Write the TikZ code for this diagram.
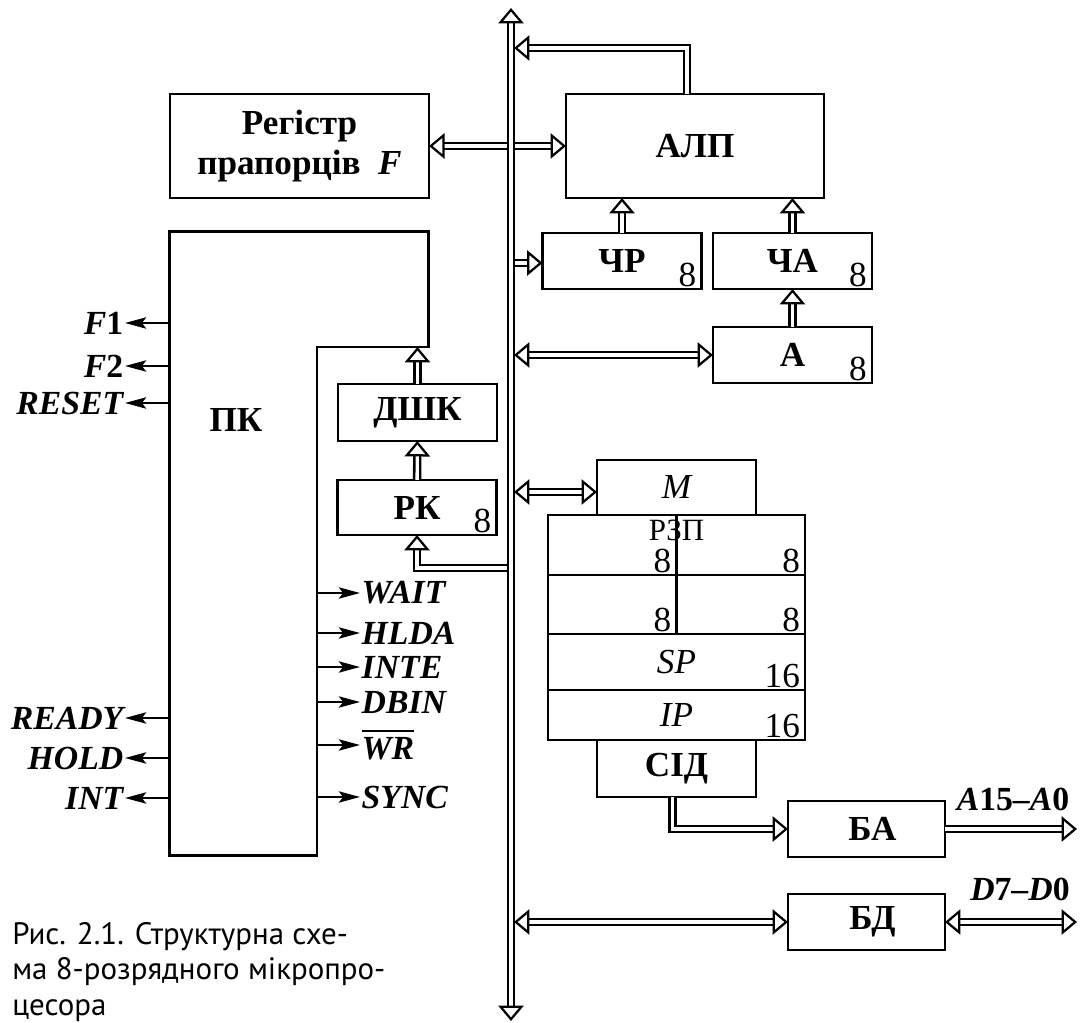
\documentclass[tikz,border=0pt]{standalone}
\usepackage{fontspec}
\setmainfont{Liberation Serif}
\newfontfamily\capfont{PT Sans}
\usetikzlibrary{arrows.meta,positioning}
\newcommand{\negsig}[1]{\vbox{\hrule height 1.8pt\kern 4pt\hbox{#1}}}

\begin{document}
\begin{tikzpicture}[
    x=0.025cm, y=-0.025cm,
    txt/.style={inner sep=0pt, font=\fontsize{22}{25}\selectfont},
    box/.style={draw, line width=2pt, inner sep=0pt, outer sep=0pt, font=\fontsize{25}{28}\selectfont\bfseries},
    unit/.style={box, minimum width=3.975cm, minimum height=1.4cm},
    row/.style={draw, line width=2pt, inner sep=0pt, outer sep=0pt, minimum width=6.425cm, font=\fontsize{25}{28}\selectfont\itshape},
    bits/.style={inner xsep=3.5pt, inner ysep=1.5pt, font=\fontsize{25}{28}\selectfont},
    sig/.style={inner sep=1pt, font=\fontsize{24}{27}\selectfont\bfseries\itshape},
    sigarr/.style={line width=1.8pt, -{Stealth[length=15pt, width=8pt, inset=3pt]}},
    dbl/.style={double, double distance=2.4pt, line width=1.8pt},
    dto/.style={dbl, -{Triangle[open, length=11pt, width=18pt, line width=1.6pt]}},
    dtw/.style={dbl, {Triangle[open, length=11pt, width=18pt, line width=1.6pt]}-{Triangle[open, length=11pt, width=18pt, line width=1.6pt]}},
]
\useasboundingbox (0,0) rectangle (1080,1023);
% Upper blocks
\node[box, minimum width=6.475cm, minimum height=2.6cm, align=center] (regf) at (299.5,146) {Регістр\\прапорців~~\textit{F}};
\node[box, minimum width=6.45cm, minimum height=2.6cm] (alu) at (695,146) {АЛП};
\node[unit] (chr) at (622,261) {ЧР};
\node[unit] (cha) at (792.5,261) {ЧА};
\node[unit] (acc) at (792.5,355) {А};
\node[bits, anchor=south east] (chr8) at (chr.south east) {8};
\node[bits, anchor=south east] (cha8) at (cha.south east) {8};
\node[bits, anchor=south east] (acc8) at (acc.south east) {8};
% Control unit
\node[inner sep=0pt, minimum width=6.45cm, minimum height=15.575cm] (pk) at (299,543.5) {};
\coordinate (pkn) at (317,347);
\draw[line width=2pt] (pk.north west) -- (pk.north east) |- (pkn) |- (pk.south west) -- cycle;
\node[box, draw=none] (pkt) at (236,420) {ПК};
\node[unit, minimum height=1.425cm] (dshk) at (417.5,412.5) {ДШК};
\node[unit, minimum height=1.375cm] (rk) at (417,507.5) {РК};
\node[bits, anchor=south east] (rk8) at (rk.south east) {8};
% Register file
\node[row, minimum height=1.5cm] (rzpa) at (676.5,545) {};
\node[row, minimum height=1.475cm, below=0pt of rzpa] (rzpb) {};
\node[row, minimum height=1.4cm, below=0pt of rzpb] (sp) {SP};
\node[row, minimum height=1.25cm, below=0pt of sp] (ip) {IP};
\node[unit, minimum height=1.375cm, above=0pt of rzpa, font=\fontsize{25}{28}\selectfont\itshape] (m) {M};
\node[unit, minimum height=1.425cm, below=0pt of ip] (sid) {СІД};
\draw[line width=2pt] (rzpa.north) -- (rzpb.south);
\node[txt, anchor=north] (rzpt) at ([yshift=-0.12cm]rzpa.north) {РЗП};
\node[bits, anchor=south east] (rza8) at (rzpa.south) {8};
\node[bits, anchor=south east] (rzb8) at (rzpa.south east) {8};
\node[bits, anchor=south east] (rzc8) at (rzpb.south) {8};
\node[bits, anchor=south east] (rzd8) at (rzpb.south east) {8};
\node[bits, anchor=south east] (sp16) at (sp.south east) {16};
\node[bits, anchor=south east] (ip16) at (ip.south east) {16};
% Buffers
\node[unit, minimum width=3.925cm] (ba) at (866.5,829) {\hspace{0.3cm}БА};
\node[unit, minimum width=3.925cm] (bd) at (866.5,922) {\hspace{0.3cm}БД};
\coordinate (aout) at (1077,829);
\coordinate (dout) at (1077,922);
\node[sig] (alab) at (1013,799) {A\textup{15}--A\textup{0}};
\node[sig] (dlab) at (1020,889) {D\textup{7}--D\textup{0}};
% Signals
\node[sig, anchor=east] (f1) at (125,323) {F\textup{1}};
\node[sig, anchor=east] (f2) at (125,366) {F\textup{2}};
\node[sig, anchor=east] (reset) at (125,403) {RESET};
\node[sig, anchor=east] (ready) at (125,718) {READY};
\node[sig, anchor=east] (hold) at (125,758) {HOLD};
\node[sig, anchor=east] (int) at (125,798) {INT};
\node[sig, anchor=west] (wait) at (360,593) {WAIT};
\node[sig, anchor=west] (hlda) at (360,633) {HLDA};
\node[sig, anchor=west] (inte) at (360,667) {INTE};
\node[sig, anchor=west] (dbin) at (360,702) {DBIN};
\node[sig, anchor=west] (wr) at (360,745) {\negsig{WR}};
\node[sig, anchor=west] (sync) at (360,797) {SYNC};
\draw[sigarr] (pk.west |- f1) -- (f1);
\draw[sigarr] (pk.west |- f2) -- (f2);
\draw[sigarr] (pk.west |- reset) -- (reset);
\draw[sigarr] (pk.west |- ready) -- (ready);
\draw[sigarr] (pk.west |- hold) -- (hold);
\draw[sigarr] (pk.west |- int) -- (int);
\draw[sigarr] (pkn |- wait) -- (wait);
\draw[sigarr] (pkn |- hlda) -- (hlda);
\draw[sigarr] (pkn |- inte) -- (inte);
\draw[sigarr] (pkn |- dbin) -- (dbin);
\draw[sigarr] (pkn |- wr) -- (wr);
\draw[sigarr] (pkn |- sync) -- (sync);
% Bus taps
\coordinate (bust) at (511,8);
\coordinate (busb) at (511,1021);
\coordinate (jalu) at (514,48);
\coordinate (jchr) at (514,263);
\coordinate (jacc) at (514,355);
\coordinate (jm) at (514,492);
\coordinate (jrk) at (508,568);
\coordinate (jbd) at (514,922);
% Connections
\draw[dto] ([xshift=-0.2cm]alu.north) |- (jalu);
\draw[dtw] (regf) -- (alu);
\draw[dto] (jchr) -- (jchr -| chr.west);
\draw[dto] (chr.north) -- (chr.north |- alu.south);
\draw[dto] (cha.north) -- (cha.north |- alu.south);
\draw[dto] (acc) -- (cha);
\draw[dtw] (jacc) -- (jacc -| acc.west);
\draw[dto] (dshk) -- (dshk |- pkn);
\draw[dto] (rk) -- (dshk);
\draw[dto] (jrk) -| (rk);
\draw[dtw] (jm) -- (jm -| m.west);
\draw[dto] ([xshift=-0.1cm]sid.south) |- (ba.west);
\draw[dto] (ba) -- (aout);
\draw[dtw] (jbd) -- (bd);
\draw[dtw] (bd) -- (dout);
% Bus
\draw[dtw] (bust) -- (busb);
% Caption
\node[anchor=base west, align=left, inner sep=0pt, font=\capfont\fontsize{22}{24.9}\selectfont] (cap) at (12,1015) {Рис. 2.1. Структурна схе-\\ма 8-розрядного мікропро-\\цесора};
\end{tikzpicture}
\end{document}
